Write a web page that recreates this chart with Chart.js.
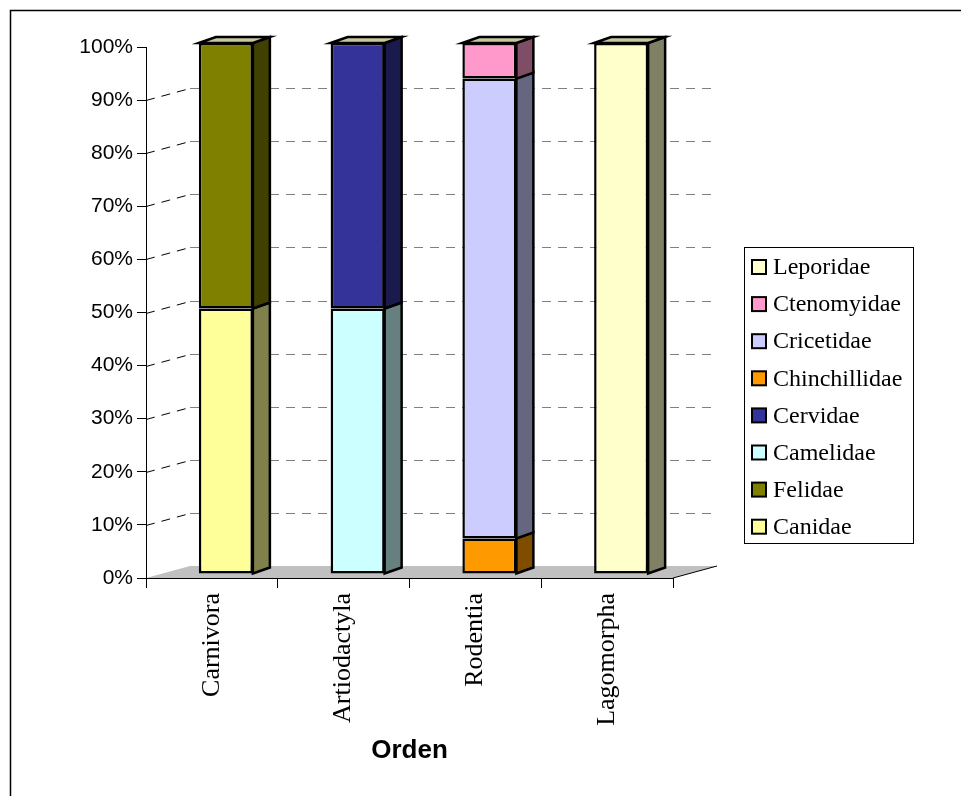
<!DOCTYPE html>
<html>
<head>
<meta charset="utf-8">
<script src="https://cdn.jsdelivr.net/npm/chart.js@4.4.1/dist/chart.umd.min.js"></script>
<style>
  html, body { margin: 0; padding: 0; background: #fff; }
  #wrap { width: 961px; height: 796px; }
</style>
</head>
<body>
<div id="wrap"><canvas id="chart" width="961" height="796"></canvas></div>
<script>
// categories (orders) and the share of each family, in percent
const categories = ['Carnivora', 'Artiodactyla', 'Rodentia', 'Lagomorpha'];
const canidae       = [50, null, null, null];
const felidae       = [50, null, null, null];
const camelidae     = [null, 50, null, null];
const cervidae      = [null, 50, null, null];
const chinchillidae = [null, null, 6.7, null];
const cricetidae    = [null, null, 86.6, null];
const ctenomyidae   = [null, null, 6.7, null];
const leporidae     = [null, null, null, 100];
const yTicks = [0, 10, 20, 30, 40, 50, 60, 70, 80, 90, 100];

const seriesNames  = ['Canidae', 'Felidae', 'Camelidae', 'Cervidae', 'Chinchillidae', 'Cricetidae', 'Ctenomyidae', 'Leporidae'];
const seriesValues = [canidae, felidae, camelidae, cervidae, chinchillidae, cricetidae, ctenomyidae, leporidae];
const seriesColors = ['#FFFF99', '#808000', '#CCFFFF', '#333399', '#FF9900', '#CCCCFF', '#FF99CC', '#FFFFCC'];

// 3D look
const FLOOR_DX = 44, FLOOR_DY = -12;   // depth of floor / back wall
const SHIFT_X = 14, SHIFT_Y = -4;      // bar front plane
const BAR_DX = 17, BAR_DY = -6;        // bar depth
const TOP_COLOR = '#C8C8A0';

function darker(hex) {
    const n = parseInt(hex.slice(1), 16);
    const r = (n >> 16) & 255, g = (n >> 8) & 255, b = n & 255;
    return `rgb(${Math.round(r / 2)}, ${Math.round(g / 2)}, ${Math.round(b / 2)})`;
}

const threeD = {
    id: 'threeD',
    beforeDraw(chart) {
        const ctx = chart.ctx;
        const area = chart.chartArea;
        const y = chart.scales.y;
        ctx.save();
        ctx.fillStyle = '#fff';
        ctx.fillRect(0, 0, chart.width, chart.height);

        // outer frame
        ctx.strokeStyle = '#000';
        ctx.lineWidth = 1.5;
        ctx.beginPath();
        ctx.moveTo(10.5, chart.height);
        ctx.lineTo(10.5, 10.5);
        ctx.lineTo(chart.width, 10.5);
        ctx.stroke();

        // floor
        const y0 = y.getPixelForValue(0);
        ctx.fillStyle = '#C0C0C0';
        ctx.beginPath();
        ctx.moveTo(area.left, y0);
        ctx.lineTo(area.right, y0);
        ctx.lineTo(area.right + FLOOR_DX, y0 + FLOOR_DY);
        ctx.lineTo(area.left + FLOOR_DX, y0 + FLOOR_DY);
        ctx.closePath();
        ctx.fill();
        ctx.lineWidth = 1;
        ctx.strokeStyle = '#000';
        ctx.beginPath();
        ctx.moveTo(area.right, y0);
        ctx.lineTo(area.right + FLOOR_DX, y0 + FLOOR_DY);
        ctx.stroke();

        // gridlines on the side and back walls
        ctx.setLineDash([9, 7]);
        yTicks.forEach(v => {
            if (v === 0 || v === 100) return;
            const yf = Math.round(y.getPixelForValue(v)) + 0.5;
            ctx.strokeStyle = '#000';
            ctx.beginPath();
            ctx.moveTo(area.left, yf);
            ctx.lineTo(area.left + FLOOR_DX, yf + FLOOR_DY);
            ctx.stroke();
            ctx.strokeStyle = '#808080';
            ctx.beginPath();
            ctx.moveTo(area.left + FLOOR_DX, yf + FLOOR_DY);
            ctx.lineTo(area.right + FLOOR_DX, yf + FLOOR_DY);
            ctx.stroke();
        });
        ctx.restore();
    },
    beforeDatasetsDraw(chart) {
        chart.ctx.save();
        chart.ctx.translate(SHIFT_X, SHIFT_Y);
    },
    afterDatasetsDraw(chart) {
        const ctx = chart.ctx;
        ctx.lineWidth = 2.5;
        ctx.lineJoin = 'miter';
        ctx.strokeStyle = '#000';
        const topOf = categories.map(() => -1);
        chart.data.datasets.forEach((ds, i) => {
            const meta = chart.getDatasetMeta(i);
            meta.data.forEach((bar, j) => {
                if (ds.data[j] == null) return;
                topOf[j] = i;
                const right = bar.x + bar.width / 2;
                ctx.fillStyle = darker(ds.backgroundColor);
                ctx.beginPath();
                ctx.moveTo(right, bar.y);
                ctx.lineTo(right + BAR_DX, bar.y + BAR_DY);
                ctx.lineTo(right + BAR_DX, bar.base + BAR_DY);
                ctx.lineTo(right, bar.base);
                ctx.closePath();
                ctx.fill();
                ctx.stroke();
            });
        });
        topOf.forEach((i, j) => {
            if (i < 0) return;
            const bar = chart.getDatasetMeta(i).data[j];
            const left = bar.x - bar.width / 2, right = bar.x + bar.width / 2;
            ctx.fillStyle = TOP_COLOR;
            ctx.beginPath();
            ctx.moveTo(left, bar.y);
            ctx.lineTo(left + BAR_DX, bar.y + BAR_DY);
            ctx.lineTo(right + BAR_DX, bar.y + BAR_DY);
            ctx.lineTo(right, bar.y);
            ctx.closePath();
            ctx.fill();
            ctx.stroke();
        });
        ctx.restore();
    },
    afterDraw(chart) {
        // legend box, last series on top
        const ctx = chart.ctx;
        ctx.save();
        ctx.strokeStyle = '#000';
        ctx.lineWidth = 1;
        ctx.strokeRect(744.5, 247.5, 169, 296);
        ctx.font = '24px "Liberation Serif", "Times New Roman", serif';
        ctx.textBaseline = 'middle';
        ctx.textAlign = 'left';
        const items = chart.data.datasets.slice().reverse();
        items.forEach((ds, k) => {
            const cy = 267 + k * 37.1;
            ctx.fillStyle = ds.backgroundColor;
            ctx.fillRect(752, cy - 7, 14, 14);
            ctx.lineWidth = 2;
            ctx.strokeRect(752, cy - 7, 14, 14);
            ctx.fillStyle = '#000';
            ctx.fillText(ds.label, 773, cy + 1);
        });
        ctx.restore();
    }
};

const datasets = seriesNames.map((name, i) => ({
    label: name,
    data: seriesValues[i],
    backgroundColor: seriesColors[i],
    borderColor: '#000',
    borderWidth: 2.5,
    borderSkipped: false,
    clip: false
}));

new Chart(document.getElementById('chart'), {
    type: 'bar',
    data: { labels: categories, datasets: datasets },
    options: {
        responsive: false,
        animation: false,
        events: [],
        layout: { padding: { left: 0, top: 47, right: 288, bottom: 0 } },
        datasets: { bar: { categoryPercentage: 1, barPercentage: 0.41 } },
        plugins: { legend: { display: false }, tooltip: { enabled: false } },
        scales: {
            x: {
                stacked: true,
                offset: true,
                afterFit: s => { s.height = 218; },
                grid: { offset: true, drawOnChartArea: false, drawTicks: true, tickLength: 10, color: '#000' },
                border: { display: true, color: '#000', width: 1 },
                ticks: {
                    maxRotation: 90, minRotation: 90, padding: 5, color: '#000',
                    font: { family: '"Liberation Serif", "Times New Roman", serif', size: 26 }
                },
                title: {
                    display: true, text: 'Orden', color: '#000',
                    font: { family: '"Liberation Sans", Arial, sans-serif', size: 26, weight: 'bold' },
                    padding: { top: 4, bottom: 30 }
                }
            },
            y: {
                stacked: true,
                min: 0, max: 100,
                afterFit: s => { s.width = 146; },
                afterBuildTicks: s => { s.ticks = yTicks.map(v => ({ value: v })); },
                grid: { drawOnChartArea: false, drawTicks: true, tickLength: 9, color: '#000' },
                border: { display: true, color: '#000', width: 1 },
                ticks: {
                    padding: 4, color: '#000',
                    font: { family: '"Liberation Sans", Arial, sans-serif', size: 21 },
                    callback: v => v + '%'
                }
            }
        }
    },
    plugins: [threeD]
});
</script>
</body>
</html>
